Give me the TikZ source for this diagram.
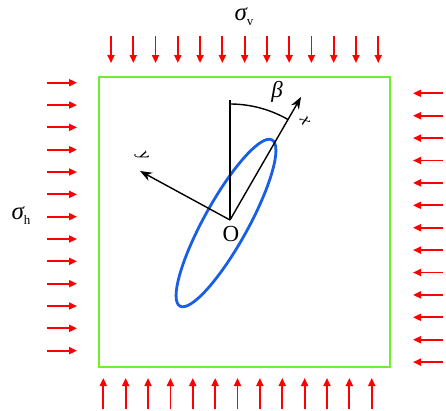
\documentclass[tikz,border=0pt]{standalone}
\usepackage{fontspec}
\setmainfont{Liberation Serif}
\usetikzlibrary{arrows.meta}
\definecolor{boxgreen}{RGB}{110,240,50}
\definecolor{ellblue}{RGB}{25,95,230}
\begin{document}
\begin{tikzpicture}[x=1pt,y=-1pt,
  load/.style={red, line width=1.8pt, -{Triangle[length=8pt,width=7pt]}},
  axisarrow/.style={black, line width=1.4pt, -{Stealth[length=12pt,width=9pt]}},
  plain/.style={black, line width=1.4pt},
  frame/.style={boxgreen, line width=2.2pt},
  ell/.style={ellblue, line width=2.8pt},
  sig/.style={inner sep=0pt, font=\fontsize{25}{25}\selectfont\itshape},
  lbl/.style={inner sep=0pt}
]
\useasboundingbox (0,0) rectangle (446,410);
% frame
\draw[frame] (99,77) rectangle (390,367);
% loads
\foreach \i in {0,...,12}{
  \coordinate (t\i s) at ({111+22.27*\i},36);
  \coordinate (t\i e) at ({111+22.27*\i},63);
  \draw[load] (t\i s) -- (t\i e);
  \coordinate (b\i s) at ({103.3+22.37*\i},409);
  \coordinate (b\i e) at ({103.3+22.37*\i},378);
  \draw[load] (b\i s) -- (b\i e);
  \coordinate (l\i s) at (47,{82.7+22.33*\i});
  \coordinate (l\i e) at (77,{82.7+22.33*\i});
  \draw[load] (l\i s) -- (l\i e);
  \coordinate (r\i s) at (443,{93.3+22.4*\i});
  \coordinate (r\i e) at (413,{93.3+22.4*\i});
  \draw[load] (r\i s) -- (r\i e);
}
% stress labels
\node[sig] (sv) at (244,17) {σ\raisebox{-5pt}{\fontsize{13}{13}\selectfont\upshape v}};
\node[sig] (sh) at (21,216) {σ\raisebox{-5pt}{\fontsize{13}{13}\selectfont\upshape h}};
% ellipse
\coordinate (C) at (226,223);
\begin{scope}[shift={(C)}, rotate=61]
  \draw[ell] (0,0) ellipse [x radius=95, y radius=22];
\end{scope}
% axes
\coordinate (O) at (230,220);
\coordinate (V) at (230,100);
\coordinate (X) at (301,97);
\coordinate (Y) at (140,171);
\draw[plain] (O) -- (V);
\draw[axisarrow] (O) -- (X);
\draw[axisarrow] (O) -- (Y);
\draw[plain] (O) ++(0,-116) arc[start angle=-90, end angle=-60, radius=116];
% labels
\node[lbl, font=\fontsize{23}{23}\selectfont\itshape] (beta) at (277,92) {β};
\node[lbl, font=\fontsize{18}{18}\selectfont\itshape, rotate=-60] (xl) at (305,121) {x};
\node[lbl, font=\fontsize{18}{18}\selectfont\itshape, rotate=-60] (yl) at (142,157) {y};
\node[lbl, font=\fontsize{23}{23}\selectfont] (ol) at (231,234) {O};
\end{tikzpicture}
\end{document}
